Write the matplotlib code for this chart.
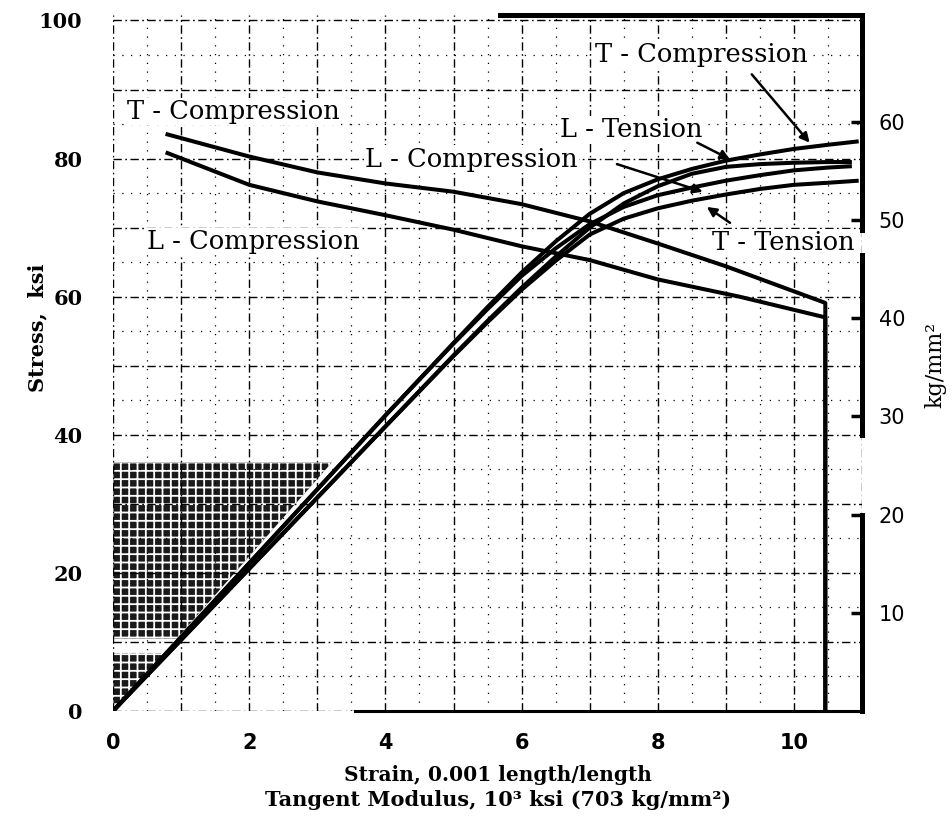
import matplotlib
matplotlib.use("Agg")
import matplotlib.pyplot as plt
import numpy as np
from matplotlib.ticker import MultipleLocator

# ---------------- data ----------------
# Stress-strain curves: strain (0.001 in/in) vs stress (ksi)
ss_t_comp_strain = [0, 1, 2, 3, 4, 5, 5.5, 6, 6.5, 7, 7.5, 8, 8.5, 9, 9.5, 10, 10.5, 10.95]
ss_t_comp_stress = [0, 10.7, 21.4, 32.1, 42.8, 53.3, 58.5, 63.5, 68.0, 72.0, 75.0, 77.0, 78.5, 79.7, 80.6, 81.4, 82.0, 82.5]

ss_l_ten_strain = [0, 1, 2, 3, 4, 5, 5.5, 6, 6.5, 7, 7.5, 8, 8.5, 9, 9.5, 10, 10.5, 10.85]
ss_l_ten_stress = [0, 10.3, 20.6, 30.9, 41.2, 51.5, 56.5, 61.3, 65.8, 70.0, 73.5, 76.0, 77.8, 78.8, 79.2, 79.4, 79.5, 79.5]

ss_l_comp_strain = [0, 1, 2, 3, 4, 5, 5.5, 6, 6.5, 7, 7.5, 8, 8.5, 9, 9.5, 10, 10.5, 10.85]
ss_l_comp_stress = [0, 10.7, 21.4, 32.1, 42.8, 53.2, 58.2, 63.0, 67.0, 70.5, 73.0, 74.7, 75.8, 76.8, 77.6, 78.3, 78.7, 78.9]

ss_t_ten_strain = [0, 1, 2, 3, 4, 5, 5.5, 6, 6.5, 7, 7.5, 8, 8.5, 9, 9.5, 10, 10.5, 10.95]
ss_t_ten_stress = [0, 10.3, 20.6, 30.9, 41.2, 51.4, 56.3, 61.0, 65.2, 69.0, 71.3, 72.8, 73.9, 74.8, 75.6, 76.2, 76.5, 76.8]

# Tangent modulus curves: modulus (10^3 ksi) vs stress (ksi)
tm_t_comp_modulus = [0.8, 2.0, 3.0, 4.0, 5.0, 6.0, 7.0, 8.0, 9.0, 10.46, 10.46]
tm_t_comp_stress = [83.5, 80.3, 78.0, 76.4, 75.2, 73.4, 70.9, 67.7, 64.4, 59.1, 0]

tm_l_comp_modulus = [0.8, 2.0, 3.0, 4.0, 5.0, 6.0, 7.0, 8.0, 9.2, 10.46, 10.46]
tm_l_comp_stress = [80.8, 76.2, 73.8, 71.8, 69.7, 67.3, 65.3, 62.5, 60.0, 57.0, 0]

x_ticks = [0, 2, 4, 6, 8, 10]
y_ticks = [0, 20, 40, 60, 80, 100]
kg_ticks = [10, 20, 30, 40, 50, 60]
KSI_TO_KGMM2 = 0.70307

# halftone (scan) band below the elastic line, in ksi
halftone_bands = [(1.0, 8.4), (10.5, 36.0)]

# ---------------- figure ----------------
plt.rcParams["hatch.linewidth"] = 1.3
fig = plt.figure(figsize=(9.53, 8.27), dpi=100)
YTOP = 100.8
ax = fig.add_axes([0.1186, 0.1403, 0.786, 0.8416])
ax.set_xlim(0, 11)
ax.set_ylim(0, YTOP)

# grid
ax.xaxis.set_minor_locator(MultipleLocator(0.5))
ax.yaxis.set_minor_locator(MultipleLocator(5))
ax.set_xticks(np.arange(0, 12, 1))
ax.set_xticklabels([str(int(v)) if v in x_ticks else "" for v in np.arange(0, 12, 1)])
ax.set_yticks(np.arange(0, 101, 10))
ax.set_yticklabels([str(int(v)) if v in y_ticks else "" for v in np.arange(0, 101, 10)])
ax.grid(which="major", color="black", lw=1.0, ls=(0, (6, 2.5, 1.2, 2.5)), zorder=0)
ax.grid(which="minor", color="black", lw=0.9, ls=(0, (1.0, 6)), zorder=0)
ax.tick_params(which="both", length=0)
ax.tick_params(axis="x", pad=16)
ax.tick_params(axis="y", pad=22)
for lab in ax.get_xticklabels():
    lab.set_fontfamily("DejaVu Sans"); lab.set_fontweight("bold"); lab.set_fontsize(15)
for lab in ax.get_yticklabels():
    lab.set_fontfamily("DejaVu Serif"); lab.set_fontweight("bold"); lab.set_fontsize(15)
for s in ax.spines.values():
    s.set_visible(False)

# halftone region
for lo, hi in halftone_bands:
    st = np.linspace(lo, hi, 50)
    ax.fill_betweenx(st, 0, st / 11.2, facecolor="#1a1a1a", edgecolor="white",
                     hatch="++", linewidth=0, zorder=1)

# curves
lw = 2.9
for xs, ys in [(ss_t_comp_strain, ss_t_comp_stress), (ss_l_ten_strain, ss_l_ten_stress),
               (ss_l_comp_strain, ss_l_comp_stress), (ss_t_ten_strain, ss_t_ten_stress)]:
    ax.plot(xs, ys, color="black", lw=lw, zorder=4, solid_capstyle="butt")
for xs, ys in [(tm_t_comp_modulus, tm_t_comp_stress), (tm_l_comp_modulus, tm_l_comp_stress)]:
    ax.plot(xs, ys, color="black", lw=lw, zorder=4, clip_on=False)

# frame pieces
ax.axhline(YTOP, xmin=5.68 / 11, xmax=1.0, color="black", lw=3.6, clip_on=False, zorder=5)
ax.axhline(0, xmin=3.55 / 11, xmax=1.0, color="black", lw=2.2, clip_on=False, zorder=5)
for lo, hi in [(69.7, YTOP), (40.0, 66.1), (0.0, 28.4)]:
    ax.axvline(11, ymin=lo / YTOP, ymax=hi / YTOP, color="black", lw=3.6, clip_on=False, zorder=5)

# labels
tfont = dict(family="DejaVu Serif", fontsize=18.5, va="center", ha="left", zorder=6)
box = dict(facecolor="white", edgecolor="none", pad=1.0)
ax.text(0.2, 86.8, "T - Compression", bbox=box, **tfont)
ax.text(0.5, 68.0, "L - Compression", bbox=box, **tfont)
ax.text(3.7, 79.9, "L - Compression", bbox=box, **tfont)
ax.text(6.56, 84.2, "L - Tension", bbox=box, **tfont)
ax.text(7.08, 95.1, "T - Compression", bbox=box, **tfont)
ax.text(8.8, 67.8, "T - Tension", bbox=box, clip_on=False, **tfont)

arrow = dict(arrowstyle="-|>", color="black", lw=1.8, mutation_scale=14, shrinkA=0, shrinkB=0)
ax.annotate("", xy=(10.23, 82.3), xytext=(9.38, 92.2), arrowprops=arrow, zorder=6)
ax.annotate("", xy=(9.06, 79.9), xytext=(8.58, 82.3), arrowprops=arrow, zorder=6)
ax.annotate("", xy=(8.66, 75.2), xytext=(7.4, 79.2), arrowprops=arrow, zorder=6)
ax.annotate("", xy=(8.72, 73.0), xytext=(9.06, 70.7), arrowprops=arrow, zorder=6)

# right axis kg/mm2
ax2 = ax.twinx()
ax2.set_ylim(0, YTOP * KSI_TO_KGMM2)
ax2.set_yticks(kg_ticks)
ax2.tick_params(axis="y", direction="in", length=8, width=2.5, labelsize=15, pad=12)
for lab in ax2.get_yticklabels():
    lab.set_fontfamily("DejaVu Sans")
for s in ax2.spines.values():
    s.set_visible(False)

ax.set_ylabel("Stress,  ksi", family="DejaVu Serif", fontweight="bold", fontsize=15)
ax.yaxis.set_label_coords(-0.087, 0.55)
fig.text(0.981, 0.559, "kg/mm²", rotation=90, ha="center", va="center",
         family="DejaVu Serif", fontsize=16)
fig.text(0.5226, 0.0629, "Strain, 0.001 length/length", ha="center", va="center",
         family="DejaVu Serif", fontweight="bold", fontsize=14.5)
fig.text(0.5226, 0.0326, "Tangent Modulus, 10³ ksi (703 kg/mm²)", ha="center", va="center",
         family="DejaVu Serif", fontweight="bold", fontsize=15)

fig.savefig("out.png", dpi=100)
